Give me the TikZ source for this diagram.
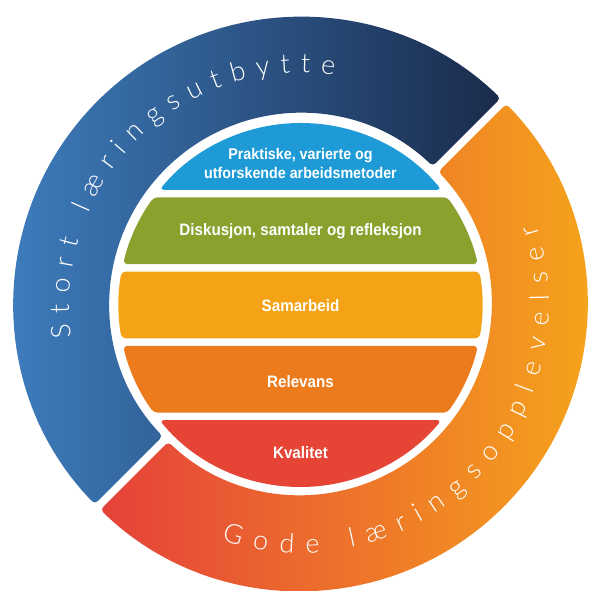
\documentclass[tikz,border=0pt]{standalone}
\usepackage{fontspec}
\setmainfont{Liberation Sans}
\newfontfamily\bandfont[FakeStretch=0.92]{Liberation Sans}
\newfontfamily\ringfont{Lato Light}
\usetikzlibrary{decorations.text}
\definecolor{ringblueL}{HTML}{3F80C2}
\definecolor{ringblueR}{HTML}{1A2B4B}
\definecolor{ringredL}{HTML}{E5413A}
\definecolor{ringorangeR}{HTML}{F6A81A}
\definecolor{bandblue}{HTML}{1E9BD7}
\definecolor{bandgreen}{HTML}{8AA12D}
\definecolor{bandyellow}{HTML}{F4A316}
\definecolor{bandorange}{HTML}{EB7B1D}
\definecolor{bandred}{HTML}{E64536}
\begin{document}
\begin{tikzpicture}[x=1pt, y=1pt, line join=round,
	band/.style={rounded corners=4pt},
	bandtext/.style={text=white, font=\bandfont\bfseries\fontsize{16.5}{19}\selectfont, align=center},
	ringtext/.style={decorate, decoration={text effects along path, text align=center,
		text effects/.cd, text along path,
		characters={text=white, font=\ringfont\fontsize{27}{30}\selectfont, inner xsep=#1}}}]
	\useasboundingbox (0,0) rectangle (589,591);
	\path
	(300.5,287) coordinate (O)
	(300.5,286) coordinate (B);
	% ring
	\shade [left color=ringblueL, right color=ringblueR, rounded corners=4pt]
	([shift={(45.8:287)}]O) arc[start angle=45.8, end angle=224.2, radius=287]
	-- ([shift={(223.8:191)}]O) arc[start angle=223.8, end angle=46.2, radius=191] -- cycle;
	\shade [left color=ringredL, right color=ringorangeR, rounded corners=4pt]
	([shift={(225.8:287)}]O) arc[start angle=225.8, end angle=404.2, radius=287]
	-- ([shift={(403.8:191)}]O) arc[start angle=403.8, end angle=226.2, radius=191] -- cycle;
	\path [ringtext=5.2pt, decoration={text={Stort læringsutbytte}}]
	([shift={(225:231)}]O) arc[start angle=225, end angle=45, radius=231];
	\path [ringtext=6pt, decoration={text={Gode læringsopplevelser}}]
	([shift={(225:249)}]O) arc[start angle=225, end angle=405, radius=249];
	% bands
	\fill [band, bandblue] ([shift={(39.27:182)}]B) arc[start angle=39.27, end angle=140.73, radius=182] -- cycle;
	\foreach \a/\b/\col in {12.99/36.29/bandgreen, -10.57/10.57/bandyellow, -36.29/-12.99/bandorange}
	\fill [band, \col] ([shift={(\a:182)}]B) arc[start angle=\a, end angle=\b, radius=182]
	-- ([shift={(180-\b:182)}]B) arc[start angle=180-\b, end angle=180-\a, radius=182] -- cycle;
	\fill [band, bandred] ([shift={(-140.73:182)}]B) arc[start angle=-140.73, end angle=-39.27, radius=182] -- cycle;
	\node [bandtext, font=\bandfont\bfseries\fontsize{15.5}{19}\selectfont] (praktisk) at (300.5,428) {Praktiske, varierte og\\utforskende arbeidsmetoder};
	\node [bandtext, anchor=base] (diskusjon) at (300.5,355) {Diskusjon, samtaler og refleksjon};
	\node [bandtext, anchor=base] (samarbeid) at (300.5,279) {Samarbeid};
	\node [bandtext, anchor=base] (relevans) at (300.5,203) {Relevans};
	\node [bandtext, anchor=base] (kvalitet) at (300.5,132) {Kvalitet};
\end{tikzpicture}
\end{document}
